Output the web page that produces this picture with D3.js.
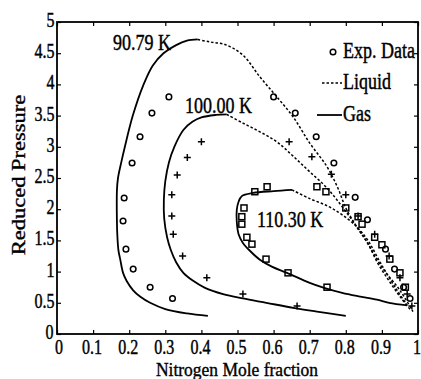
<!DOCTYPE html>
<html>
<head>
<meta charset="utf-8">
<script src="https://cdn.jsdelivr.net/npm/d3@7"></script>
<style>
  html, body { margin: 0; padding: 0; background: #fff; }
  svg { display: block; }
  text { font-family: "Liberation Serif", "Times New Roman", serif; fill: #000; stroke: #000; stroke-width: 0.35; }
</style>
</head>
<body>
<svg id="chart" width="421" height="379"></svg>
<script>
// Axis ticks
const xTicks = [0, 0.1, 0.2, 0.3, 0.4, 0.5, 0.6, 0.7, 0.8, 0.9, 1];
const xTickLabels = ["0", "0.1", "0.2", "0.3", "0.4", "0.5", "0.6", "0.7", "0.8", "0.9", "1"];
const yTicks = [0, 0.5, 1, 1.5, 2, 2.5, 3, 3.5, 4, 4.5, 5];
const yTickLabels = ["0", "0.5", "1", "1.5", "2", "2.5", "3", "3.5", "4", "4.5", "5"];

// Isotherm labels
const temperatures = ["90.79 K", "100.00 K", "110.30 K"];

// Calculated phase envelopes: [nitrogen mole fraction, reduced pressure]
const gas9079 = [[0.418,0.29],[0.36,0.33],[0.30,0.40],[0.258,0.50],[0.23,0.60],[0.211,0.70],[0.193,0.85],[0.183,0.98],[0.175,1.2],[0.17,1.35],[0.167,1.6],[0.166,1.8],[0.166,2.3],[0.169,2.5],[0.178,2.75],[0.188,3.0],[0.21,3.5],[0.24,4.0],[0.265,4.3],[0.295,4.5],[0.33,4.63],[0.36,4.7],[0.39,4.72]];
const liquid9079 = [[0.39,4.72],[0.424,4.68],[0.465,4.64],[0.515,4.47],[0.562,4.12],[0.609,3.8],[0.654,3.48],[0.70,3.06],[0.748,2.68],[0.778,2.34],[0.80,2.02],[0.83,1.72],[0.86,1.46],[0.90,1.07],[0.95,0.7],[0.986,0.36]];
const gas10000 = [[0.80,0.29],[0.72,0.36],[0.654,0.42],[0.58,0.50],[0.515,0.57],[0.46,0.64],[0.41,0.74],[0.375,0.86],[0.35,0.98],[0.33,1.15],[0.315,1.35],[0.305,1.55],[0.297,1.85],[0.296,2.15],[0.30,2.45],[0.31,2.75],[0.325,3.0],[0.35,3.27],[0.375,3.4],[0.40,3.47],[0.44,3.51],[0.47,3.52]];
const liquid10000 = [[0.47,3.52],[0.515,3.38],[0.562,3.24],[0.609,3.08],[0.654,2.85],[0.70,2.6],[0.748,2.34],[0.79,2.04],[0.83,1.72],[0.86,1.46],[0.89,1.12],[0.92,0.85],[0.95,0.6],[0.98,0.38]];
const gas11030 = [[0.97,0.46],[0.92,0.5],[0.886,0.55],[0.84,0.6],[0.79,0.66],[0.74,0.74],[0.70,0.82],[0.637,0.98],[0.595,1.08],[0.562,1.19],[0.535,1.33],[0.515,1.46],[0.503,1.6],[0.498,1.8],[0.498,1.99],[0.503,2.12],[0.512,2.21],[0.543,2.26],[0.60,2.29],[0.651,2.31]];
const liquid11030 = [[0.651,2.31],[0.70,2.17],[0.75,2.05],[0.79,1.91],[0.83,1.72],[0.86,1.51],[0.90,1.1],[0.94,0.72],[0.97,0.46]];

// Experimental points
const exp9079 = [[0.32,0.57],[0.258,0.75],[0.211,1.04],[0.191,1.36],[0.183,1.81],[0.186,2.18],[0.208,2.74],[0.23,3.16],[0.263,3.54],[0.31,3.8],
                 [0.60,3.8],[0.66,3.54],[0.718,3.16],[0.767,2.74],[0.826,2.19],[0.86,1.83],[0.91,1.36],[0.935,1.04],[0.96,0.75],[0.978,0.57]];
const exp10000 = [[0.665,0.45],[0.515,0.64],[0.415,0.9],[0.348,1.25],[0.322,1.6],[0.318,1.89],[0.318,2.23],[0.333,2.55],[0.361,2.83],[0.40,3.08],
                  [0.643,3.08],[0.706,2.84],[0.76,2.56],[0.80,2.23],[0.834,1.89],[0.88,1.6],[0.92,1.25],[0.95,0.9],[0.97,0.64],[0.983,0.45]];
const exp11030 = [[0.582,2.36],[0.548,2.28],[0.518,2.02],[0.512,1.88],[0.512,1.76],[0.526,1.55],[0.54,1.44],[0.579,1.2],[0.64,0.98],[0.748,0.75],
                  [0.72,2.36],[0.745,2.28],[0.80,2.02],[0.834,1.88],[0.845,1.76],[0.88,1.55],[0.90,1.43],[0.922,1.2],[0.95,0.98],[0.965,0.75]];

const svg = d3.select("#chart");
const x = d3.scaleLinear().domain([0, 1]).range([57, 418]);
const y = d3.scaleLinear().domain([0, 5]).range([334, 22]);

// Printed lettering is taller than it is wide
function label(g, px, py, str, size, anchor, stretch) {
  return g.append("text")
    .attr("transform", `translate(${px},${py}) scale(1,${stretch || 1.25})`)
    .attr("font-size", size)
    .attr("text-anchor", anchor || "start")
    .text(str);
}

// Inward ticks on all four sides
const tickStyle = sel => {
  sel.select(".domain").remove();
  sel.selectAll(".tick line").attr("stroke", "#000").attr("stroke-width", 1.2);
};
svg.append("g").attr("transform", `translate(0,${y(0)})`)
  .call(d3.axisBottom(x).tickValues(xTicks).tickSize(-4).tickFormat("")).call(tickStyle);
svg.append("g").attr("transform", `translate(0,${y(5)})`)
  .call(d3.axisTop(x).tickValues(xTicks).tickSize(-4).tickFormat("")).call(tickStyle);
svg.append("g").attr("transform", `translate(${x(0)},0)`)
  .call(d3.axisLeft(y).tickValues(yTicks).tickSize(-4).tickFormat("")).call(tickStyle);
svg.append("g").attr("transform", `translate(${x(1)},0)`)
  .call(d3.axisRight(y).tickValues(yTicks).tickSize(-4).tickFormat("")).call(tickStyle);

// Frame
svg.append("rect")
  .attr("x", x(0)).attr("y", y(5))
  .attr("width", x(1) - x(0)).attr("height", y(0) - y(5))
  .attr("fill", "none").attr("stroke", "#000").attr("stroke-width", 1.8);

// Tick labels (the two zeros at the corner are nudged apart)
const labels = svg.append("g");
xTicks.forEach((v, i) => label(labels, x(v) - 1 + (i === 0 ? 3 : 0), 354, xTickLabels[i], 16, "middle"));
yTicks.forEach((v, i) => label(labels, 54.5 - (i === 0 ? 1 : 0), y(v) + 5, yTickLabels[i], 16, "end"));

// Axis titles
label(svg, 237, 376, "Nitrogen Mole fraction", 17.5, "middle", 1.08);
svg.append("text")
  .attr("transform", "translate(25,175) rotate(-90) scale(1.25,1)")
  .attr("font-size", 18)
  .attr("text-anchor", "middle")
  .text("Reduced Pressure");

// Envelopes
const line = d3.line().x(d => x(d[0])).y(d => y(d[1])).curve(d3.curveCatmullRom.alpha(0.5));
const curves = svg.append("g").attr("fill", "none").attr("stroke", "#000");
[gas9079, gas10000, gas11030].forEach(c =>
  curves.append("path").attr("d", line(c)).attr("stroke-width", 1.8));
[liquid9079, liquid10000, liquid11030].forEach(c =>
  curves.append("path").attr("d", line(c)).attr("stroke-width", 1.5).attr("stroke-dasharray", "2.5,2"));

// Markers
const pts = svg.append("g").attr("fill", "none").attr("stroke", "#000").attr("stroke-width", 1.5);
pts.selectAll("circle").data(exp9079).join("circle")
  .attr("cx", d => x(d[0])).attr("cy", d => y(d[1])).attr("r", 2.8);
pts.selectAll("path.cross").data(exp10000).join("path").attr("class", "cross")
  .attr("d", d => `M${x(d[0]) - 3.5},${y(d[1])}h7M${x(d[0])},${y(d[1]) - 3.5}v7`);
pts.selectAll("rect").data(exp11030).join("rect")
  .attr("x", d => x(d[0]) - 3).attr("y", d => y(d[1]) - 3).attr("width", 6).attr("height", 6);

// Isotherm annotations
label(svg, 113, 50, temperatures[0], 18);
label(svg, 185, 113, temperatures[1], 18);
label(svg, 257, 227, temperatures[2], 18);

// Legend
const legend = svg.append("g");
legend.append("circle").attr("cx", 333).attr("cy", 52).attr("r", 2.8)
  .attr("fill", "none").attr("stroke", "#000").attr("stroke-width", 1.5);
label(legend, 343, 58, "Exp. Data", 18);
legend.append("line").attr("x1", 322).attr("x2", 342).attr("y1", 83).attr("y2", 83)
  .attr("stroke", "#000").attr("stroke-width", 1.5).attr("stroke-dasharray", "2.5,2");
label(legend, 343, 89, "Liquid", 18);
legend.append("line").attr("x1", 317).attr("x2", 342).attr("y1", 115).attr("y2", 115)
  .attr("stroke", "#000").attr("stroke-width", 1.8);
label(legend, 343, 121, "Gas", 18);
</script>
</body>
</html>
